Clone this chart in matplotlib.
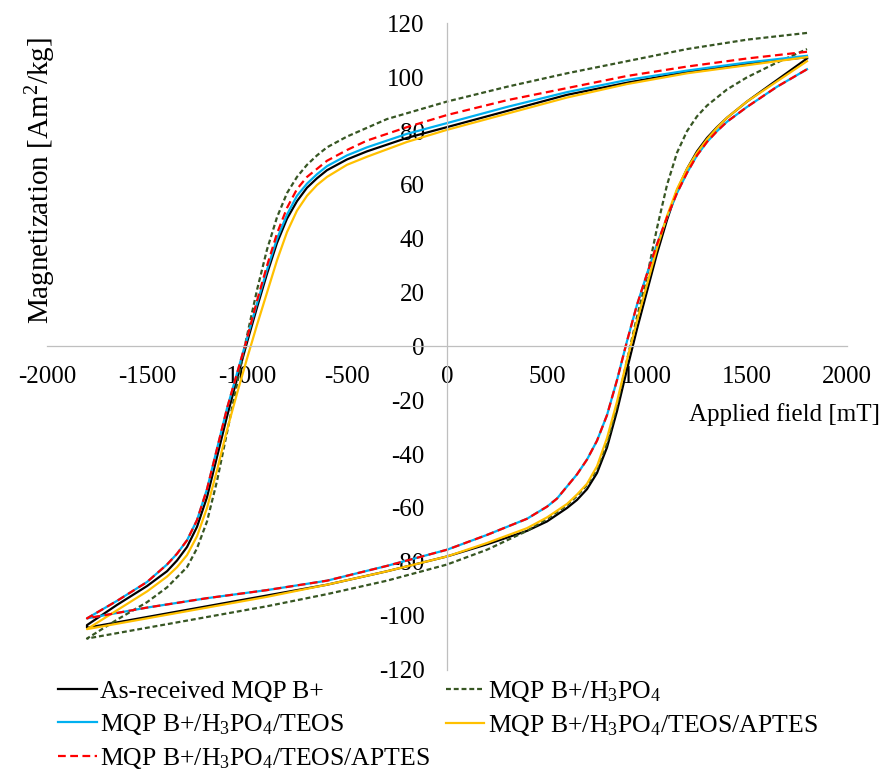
import numpy as np
import matplotlib
matplotlib.use("Agg")
import matplotlib.pyplot as plt

plt.rcParams['font.family'] = ['Liberation Serif', 'DejaVu Serif']
plt.rcParams['mathtext.fontset'] = 'custom'
plt.rcParams['mathtext.rm'] = 'Liberation Serif'
plt.rcParams['mathtext.it'] = 'Liberation Serif:italic'

# applied field [mT] / magnetization [Am2/kg], read from the loops
# upper branch = field going down from +1800, lower branch = field going up
black_up_h = [1800, 1500, 1200, 900, 600, 300, 0, -200, -400, -500, -600, -650, -700, -750, -800, -850, -900,
              -950, -1000, -1050, -1100, -1150, -1200, -1250, -1300, -1350, -1400, -1500, -1650, -1800]
black_up_m = [107.5, 105, 102, 98, 93.5, 87.5, 81.5, 77.5, 72.5, 69.5, 65.5, 62.5, 59, 54, 47.5, 38.5, 27,
              14.5, 1.5, -12, -26, -41, -56, -67, -74.5, -79.5, -83.5, -89, -96, -103.5]
black_dn_h = [-1800, -1500, -1200, -900, -600, -300, 0, 200, 400, 500, 600, 650, 700, 750, 800, 850, 900,
              950, 1000, 1050, 1100, 1150, 1200, 1250, 1300, 1350, 1400, 1500, 1650, 1800]
black_dn_m = [-104.5, -100.5, -96.5, -92.5, -88.5, -83.5, -78, -73.5, -68.5, -65, -60, -57, -53, -47, -37.5, -24, -8.5,
              6.5, 20.5, 34.5, 47, 58, 66, 72.5, 77.5, 81.5, 85, 91, 99, 107]

green_up_h = [1800, 1500, 1200, 900, 600, 300, 0, -300, -500, -600, -650, -700, -750, -800, -850, -900,
              -950, -1000, -1050, -1100, -1150, -1200, -1250, -1300, -1400, -1500, -1650, -1800]
green_up_m = [116.5, 114, 110.5, 106, 101.5, 96.5, 91, 84.5, 78, 74, 71, 67.5, 63, 57, 48, 36,
              21, 4, -14, -32, -50, -65, -75, -82, -89.5, -95, -101.5, -108.5]
green_dn_h = [-1800, -1500, -1200, -900, -600, -300, 0, 200, 400, 500, 600, 650, 700, 750, 800, 850, 900,
              950, 1000, 1050, 1100, 1150, 1200, 1250, 1300, 1400, 1500, 1650, 1800]
green_dn_m = [-108.5, -104.5, -100.5, -96.5, -92, -87, -81, -75.5, -68.5, -64, -59, -55.5, -51.5, -45.5, -36, -22, -5,
              11, 26, 44, 60, 72, 80, 85.5, 89.5, 95.5, 100, 105.5, 110.5]

blue_up_h = [1800, 1500, 1200, 900, 600, 300, 0, -200, -400, -500, -600, -650, -700, -750, -800, -850, -900,
             -950, -1000, -1050, -1100, -1150, -1200, -1250, -1300, -1350, -1400, -1500, -1650, -1800]
blue_up_m = [108, 105.5, 102.5, 99, 94.5, 89, 83, 79, 74, 71, 67, 64, 60.5, 56, 49, 40, 28.5,
             16, 3, -10, -23, -38, -53, -64.5, -72, -77, -81, -87.5, -94.5, -101]
blue_dn_h = [-1800, -1500, -1200, -900, -600, -300, 0, 200, 400, 500, 550, 600, 650, 700, 750, 800, 850, 900,
             950, 1000, 1050, 1100, 1150, 1200, 1250, 1300, 1350, 1400, 1500, 1650, 1800]
blue_dn_m = [-101, -97, -93.5, -90.5, -87, -81.5, -75.5, -70, -64, -59.5, -56.5, -52, -47.5, -42, -35, -25.5, -12.5, 2,
             15.5, 27, 38, 48, 57, 64.5, 71, 76, 80, 83.5, 89, 96.5, 103]

yellow_up_h = [1800, 1500, 1200, 900, 600, 300, 0, -200, -400, -500, -600, -650, -700, -750, -800, -850, -900,
               -950, -1000, -1050, -1100, -1150, -1200, -1250, -1300, -1350, -1400, -1500, -1650, -1800]
yellow_up_m = [107.5, 104.5, 101.5, 97.5, 92.5, 86.5, 80.5, 76, 70.5, 67.5, 63, 60, 56, 50.5, 42.5, 32, 20,
               8, -4.5, -17.5, -31, -46, -60, -70.5, -77.5, -82, -85.5, -91, -98, -105]
yellow_dn_h = [-1800, -1500, -1200, -900, -600, -300, 0, 200, 400, 500, 600, 650, 700, 750, 800, 850, 900,
               950, 1000, 1050, 1100, 1150, 1200, 1250, 1300, 1350, 1400, 1500, 1650, 1800]
yellow_dn_m = [-105, -101, -97, -93, -88.5, -83.5, -78, -73, -67.5, -63.5, -58.5, -55, -51, -44.5, -34, -20.5, -5,
               9.5, 23, 36.5, 48.5, 58.5, 66, 72, 77, 81.3, 85, 91, 98.5, 106]

red_up_h = blue_up_h
red_up_m = [109.5, 107, 104, 100.5, 96, 91.5, 86, 81.5, 76.5, 73, 69, 66, 63, 58.5, 51.5, 42, 30,
            17, 3, -10, -23, -38, -53, -64.5, -72, -77, -81, -87.5, -94.5, -101]
red_dn_h = blue_dn_h
red_dn_m = blue_dn_m

labels = ['As-received MQP B+',
          'MQP B+/H$_3$PO$_4$',
          'MQP B+/H$_3$PO$_4$/TEOS',
          'MQP B+/H$_3$PO$_4$/TEOS/APTES',
          'MQP B+/H$_3$PO$_4$/TEOS/APTES']

x_ticks = np.arange(-2000, 2001, 500)
y_ticks = np.arange(-120, 121, 20)

fig = plt.figure(figsize=(8.83, 7.8), dpi=100)
ax = fig.add_axes([47/883, 1 - 669.5/780, 800/883, 646/780])

series = [
    (black_up_h, black_up_m, black_dn_h, black_dn_m, dict(color='black', lw=1.6)),
    (green_up_h, green_up_m, green_dn_h, green_dn_m, dict(color='#375623', lw=1.6, linestyle=(0, (2.2, 1.3)))),
    (blue_up_h, blue_up_m, blue_dn_h, blue_dn_m, dict(color='#00B0F0', lw=1.6)),
    (yellow_up_h, yellow_up_m, yellow_dn_h, yellow_dn_m, dict(color='#FFC000', lw=1.6)),
    (red_up_h, red_up_m, red_dn_h, red_dn_m, dict(color='#FF0000', lw=1.6, linestyle=(0, (3.5, 2.0)))),
]

handles = []
for (uh, um, dh, dm, style), lab in zip(series, labels):
    h = np.concatenate([uh, dh])
    m = np.concatenate([um, dm])
    line, = ax.plot(h, m, label=lab, **style)
    handles.append(line)

ax.set_xlim(-2000, 2000)
ax.set_ylim(-120, 120)
ax.set_xticks(x_ticks)
ax.set_yticks(y_ticks)
ax.set_xticklabels([str(v) for v in x_ticks])
ax.set_yticklabels([str(v) for v in y_ticks])

ax.spines['left'].set_position(('data', 0))
ax.spines['bottom'].set_position(('data', 0))
ax.spines['top'].set_visible(False)
ax.spines['right'].set_visible(False)
for s in ['left', 'bottom']:
    ax.spines[s].set_color('#BFBFBF')
    ax.spines[s].set_linewidth(0.9)
ax.tick_params(axis='both', length=0, labelsize=18)
ax.tick_params(axis='y', pad=16)
ax.tick_params(axis='x', pad=14)
ax.patch.set_alpha(0)

fig.text(41/883, 1 - 181/780, 'Magnetization [Am$^2$/kg]', rotation=90,
         ha='center', va='center', fontsize=21)
fig.text(880/883, 1 - 415/780, 'Applied field [mT]', ha='right', va='center', fontsize=18)

# row-wise order like the original: (1,2) (3,4) (5)
order = [0, 2, 4, 1, 3]
fig.legend([handles[i] for i in order], [labels[i] for i in order], ncol=2,
           loc='upper left', bbox_to_anchor=(58/883, 1 - 679/780), frameon=False,
           fontsize=18.5, handlelength=1.5, handletextpad=0.15, columnspacing=0.6,
           labelspacing=0.35, borderpad=0, borderaxespad=0)

fig.savefig('out.png', dpi=100, facecolor='white')
